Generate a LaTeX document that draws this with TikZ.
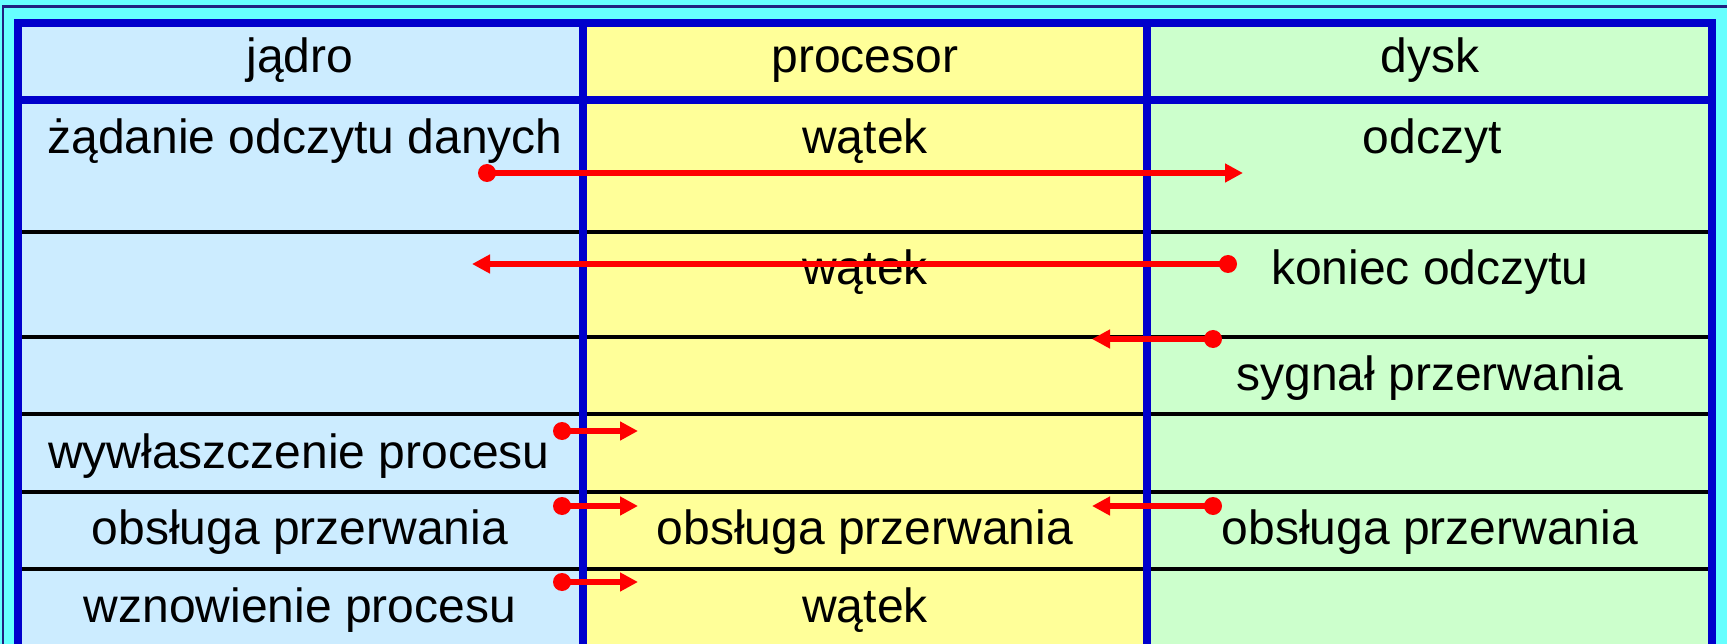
\documentclass[tikz,border=0pt]{standalone}
\usepackage{fontspec}
\setmainfont{Liberation Sans}
\usetikzlibrary{arrows.meta}
\definecolor{bgcyan}{HTML}{66FFFF}
\definecolor{colA}{HTML}{CCECFF}
\definecolor{colB}{HTML}{FFFF99}
\definecolor{colC}{HTML}{CCFFCC}
\definecolor{tblue}{HTML}{0000CC}
\definecolor{framecol}{HTML}{202080}
\begin{document}
\begin{tikzpicture}[x=1pt,y=-1pt,
  lbl/.style={anchor=base,inner sep=0pt,font=\fontsize{48}{58}\selectfont},
  conn/.style={red,line width=6.5pt,-{Triangle[length=18pt,width=18pt]}},
  dotmark/.style={fill=red},
  rowline/.style={black,line width=4pt},
  bluerule/.style={tblue,line width=7.5pt,line join=miter}]
\useasboundingbox (0,0) rectangle (1727,644);
\fill[bgcyan] (0,0) rectangle (1727,644);
\draw[framecol,line width=2.5pt] (3,660) -- (3,6.5) -- (1740,6.5);
% column fills
\fill[colA] (18,23) rectangle (583,660);
\fill[colB] (583,23) rectangle (1147,660);
\fill[colC] (1147,23) rectangle (1712,660);
% row lines
\foreach \yy in {232,337,414,492,569} {\draw[rowline] (18,\yy) -- (1712,\yy);}
% blue rules
\draw[bluerule] (18,660) -- (18,23) -- (1712,23) -- (1712,660);
\draw[bluerule] (18,100) -- (1712,100);
\draw[bluerule] (583,23) -- (583,660);
\draw[bluerule] (1147,23) -- (1147,660);
% header
\node[lbl] (h1) at (300,73) {jądro};
\node[lbl] (h2) at (865,73) {procesor};
\node[lbl] (h3) at (1430,73) {dysk};
% row 1
\node[lbl] (r1a) at (305,154) {żądanie odczytu danych};
\node[lbl] (r1b) at (865,154) {wątek};
\node[lbl] (r1c) at (1432,154) {odczyt};
% row 2
\node[lbl] (r2b) at (865,285) {wątek};
\node[lbl] (r2c) at (1430,285) {koniec odczytu};
% row 3
\node[lbl] (r3c) at (1430,390) {sygnał przerwania};
% row 4
\node[lbl] (r4a) at (299,468) {wywłaszczenie procesu};
% row 5
\node[lbl] (r5a) at (300,544) {obsługa przerwania};
\node[lbl] (r5b) at (865,544) {obsługa przerwania};
\node[lbl] (r5c) at (1430,544) {obsługa przerwania};
% row 6
\node[lbl] (r6a) at (300,622) {wznowienie procesu};
\node[lbl] (r6b) at (865,622) {wątek};
% arrow endpoints
\coordinate (a1s) at (487,173);  \coordinate (a1e) at (1243,173);
\coordinate (a2s) at (1228,264); \coordinate (a2e) at (472,264);
\coordinate (a3s) at (1213,339); \coordinate (a3e) at (1092,339);
\coordinate (a4s) at (562,431);  \coordinate (a4e) at (638,431);
\coordinate (a5s) at (562,506);  \coordinate (a5e) at (638,506);
\coordinate (a6s) at (562,582);  \coordinate (a6e) at (638,582);
\coordinate (a7s) at (1213,506); \coordinate (a7e) at (1092,506);
\foreach \k in {1,...,7} {
  \draw[conn] (a\k s) -- (a\k e);
  \fill[dotmark] (a\k s) circle[radius=9];
}
\end{tikzpicture}
\end{document}
